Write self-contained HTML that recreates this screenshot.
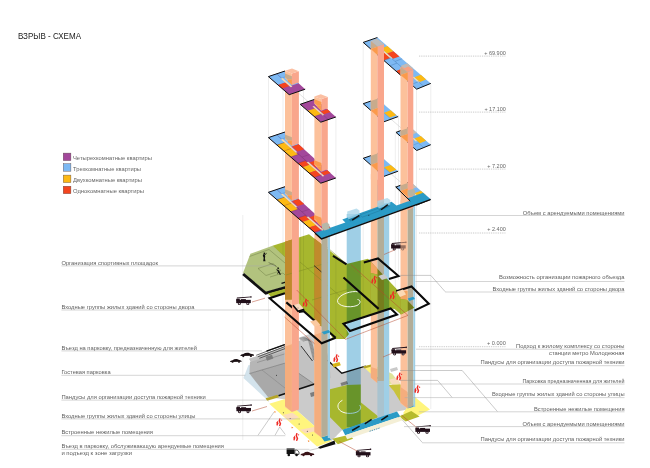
<!DOCTYPE html>
<html><head><meta charset="utf-8"><title>ВЗРЫВ - СХЕМА</title>
<style>
html,body{margin:0;padding:0;background:#fff;}
body{width:650px;height:468px;overflow:hidden;font-family:"Liberation Sans",sans-serif;}
svg{display:block;position:absolute;left:0;top:0;}
svg text{font-family:"Liberation Sans",sans-serif;}
</style></head><body>
<svg width="650" height="468" viewBox="0 0 650 468">
<rect width="650" height="468" fill="#fff"/>
<g style="isolation:isolate">
<polyline points="268.5,77.0 268.5,402.0" fill="none" stroke="#dcdcdc" stroke-width="0.5" />
<polyline points="242.8,215.0 242.8,440.0" fill="none" stroke="#dcdcdc" stroke-width="0.5" />
<polyline points="303.5,88.0 303.5,300.0" fill="none" stroke="#dcdcdc" stroke-width="0.5" />
<polyline points="335.9,117.0 335.9,445.0" fill="none" stroke="#dcdcdc" stroke-width="0.5" />
<polyline points="300.6,105.0 300.6,300.0" fill="none" stroke="#dcdcdc" stroke-width="0.5" />
<polyline points="363.2,43.0 363.2,368.0" fill="none" stroke="#dcdcdc" stroke-width="0.5" />
<polyline points="377.5,38.0 377.5,262.0" fill="none" stroke="#dcdcdc" stroke-width="0.5" />
<polyline points="430.8,84.0 430.8,409.0" fill="none" stroke="#dcdcdc" stroke-width="0.5" />
<polyline points="395.3,131.0 395.3,300.0" fill="none" stroke="#dcdcdc" stroke-width="0.5" />
<polyline points="416.5,89.0 416.5,312.0" fill="none" stroke="#dcdcdc" stroke-width="0.5" />
<polyline points="320.9,122.0 320.9,448.0" fill="none" stroke="#dcdcdc" stroke-width="0.5" />
<polyline points="283.0,72.0 283.0,398.0" fill="none" stroke="#dcdcdc" stroke-width="0.5" />
<polyline points="398.5,115.0 398.5,280.0" fill="none" stroke="#dcdcdc" stroke-width="0.5" />
<polyline points="419.0,56.1 505.8,56.1" fill="none" stroke="#9a9a9a" stroke-width="0.6" stroke-dasharray="0.9 0.9"/>
<polyline points="419.0,112.1 505.8,112.1" fill="none" stroke="#9a9a9a" stroke-width="0.6" stroke-dasharray="0.9 0.9"/>
<polyline points="419.0,169.1 505.8,169.1" fill="none" stroke="#9a9a9a" stroke-width="0.6" stroke-dasharray="0.9 0.9"/>
<polyline points="419.0,233.0 505.8,233.0" fill="none" stroke="#9a9a9a" stroke-width="0.6" stroke-dasharray="0.9 0.9"/>
<polyline points="419.0,346.7 505.8,346.7" fill="none" stroke="#9a9a9a" stroke-width="0.6" stroke-dasharray="0.9 0.9"/>
<polygon points="249.2,358.8 285.8,346.3 322.0,332.0 329.0,361.0 341.8,373.2 365.3,366.2 375.7,373.0 379.2,383.0 384.5,381.3 389.2,384.2 407.5,409.5 397.0,411.6 342.4,429.8 331.3,441.0 284.2,399.2 268.5,397.3" fill="#cbcbcb" />
<polygon points="248.5,365.0 243.4,377.9 265.6,398.4 278.0,395.4 256.0,366.0" fill="#d3e3ec" />
<polygon points="249.2,358.8 285.8,346.3 322.0,332.0 329.0,361.0 331.0,378.0 291.0,392.0 268.5,397.3" fill="#c2c2c2" />
<polygon points="249.4,373.6 284.4,363.3 315.2,384.7 278.5,395.8 268.0,397.0" fill="#a9a9a9" />
<polygon points="250.0,362.0 284.4,351.0 284.4,363.3 249.4,373.6" fill="#b6b6b6" />
<polyline points="256.2,355.3 285.3,344.3" fill="none" stroke="#2a2a2a" stroke-width="0.7" />
<polyline points="257.8,356.8 286.9,345.8" fill="none" stroke="#2a2a2a" stroke-width="0.7" />
<polyline points="259.4,358.3 288.5,347.3" fill="none" stroke="#2a2a2a" stroke-width="0.7" />
<polyline points="266.5,351.2 284.8,344.6" fill="none" stroke="#111" stroke-width="1.4" />
<polyline points="278.5,395.8 315.2,383.8" fill="none" stroke="#111" stroke-width="1.5" />
<polyline points="257.0,362.5 284.4,354.0" fill="none" stroke="#666" stroke-width="0.4" />
<polyline points="249.4,373.6 284.4,363.3 315.2,384.7" fill="none" stroke="#666" stroke-width="0.5" />
<polyline points="262.0,370.0 290.0,392.0" fill="none" stroke="#777" stroke-width="0.4" />
<circle cx="276.5" cy="375.3" r="0.5" fill="#222"/>
<polygon points="299.0,337.5 310.0,334.0 314.0,338.0 314.4,362.0 302.0,349.0" fill="#cdcdcd" />
<path d="M299.5,338.5 q7,-2.5 9,1.5 l5,20" fill="none" stroke="#555" stroke-width="0.45"/>
<path d="M300.6,339.4 q7,-2.5 9,1.5 l5,20" fill="none" stroke="#555" stroke-width="0.45"/>
<path d="M301.7,340.3 q7,-2.5 9,1.5 l5,20" fill="none" stroke="#555" stroke-width="0.45"/>
<path d="M302.8,341.2 q7,-2.5 9,1.5 l5,20" fill="none" stroke="#555" stroke-width="0.45"/>
<polyline points="301.0,346.0 312.5,361.0" fill="none" stroke="#222" stroke-width="0.9" />
<polygon points="265.6,356.8 272.0,354.8 273.3,358.6 267.0,360.8" fill="#7c7c7c" />
<polygon points="310.0,393.0 320.0,390.0 321.0,394.0 311.0,397.0" fill="#7d7d7d" />
<polygon points="340.5,383.0 347.0,381.0 348.0,384.0 341.5,386.0" fill="#7d7d7d" />
<polygon points="265.6,398.2 277.5,394.8 279.0,397.2 267.0,400.8" fill="#b5a528" />
<polygon points="269.2,403.7 284.2,399.2 331.7,441.3 317.0,446.5" fill="#fff57d" />
<polygon points="282.7,414.9 292.4,412.7 299.0,417.2 289.4,420.9" fill="#fbdcbc" />
<polygon points="299.8,429.8 314.0,426.9 317.8,430.6 305.8,433.6" fill="#fbdcbc" />
<circle cx="283.4" cy="412.7" r="0.5" fill="#333"/>
<circle cx="290.1" cy="418.6" r="0.5" fill="#333"/>
<circle cx="299.1" cy="423.9" r="0.5" fill="#333"/>
<circle cx="307.3" cy="431.3" r="0.5" fill="#333"/>
<circle cx="312.5" cy="435.1" r="0.5" fill="#333"/>
<polygon points="274.2,411.1 276.2,411.9 274.6,412.8" fill="#f58220" />
<polygon points="291.4,426.8 293.4,427.6 291.8,428.5" fill="#f58220" />
<polygon points="307.8,440.2 309.8,441.0 308.2,441.9" fill="#f58220" />
<polyline points="327.6,360.3 341.8,373.2 365.3,366.2 371.0,372.0" fill="none" stroke="#111" stroke-width="1.4" />
<polyline points="371.0,375.6 384.0,380.0" fill="none" stroke="#111" stroke-width="1.0" />
<polygon points="383.9,370.0 392.2,373.7 400.4,384.2 388.4,384.2 383.9,381.2" fill="#dfe398" />
<polygon points="389.2,379.7 397.4,377.4 400.4,383.4 392.2,384.9" fill="#f6dcc0" />
<polygon points="388.4,384.9 400.4,384.2 407.9,394.6 400.5,402.0 393.7,390.9" fill="#c9c23a" />
<polygon points="414.6,396.7 430.0,409.5 412.0,418.5 403.0,413.3" fill="#fff57d" />
<polygon points="363.3,366.5 375.0,363.5 378.0,367.5 381.0,374.0 376.5,378.5 369.0,372.0" fill="#fff57d" />
<polygon points="363.3,366.5 375.0,363.5 376.0,365.3 364.5,368.5" fill="#b5a528" />
<polygon points="332.4,364.0 339.5,362.0 340.8,365.3 333.6,367.5" fill="#d6b416" />
<polygon points="390.0,369.0 397.0,367.0 398.0,370.0 391.0,372.0" fill="#c9c9c9" />
<polygon points="329.0,389.4 346.9,385.0 346.9,428.6 342.4,429.8 329.0,416.3" fill="#a7b72e" />
<polygon points="346.7,385.0 360.8,384.6 360.8,424.0 346.7,428.6" fill="#a7b72e" />
<polygon points="360.4,402.1 379.0,417.0 360.4,424.0" fill="#a7b72e" />
<path d="M342.4,400.3 C338,402.5 336.5,406.5 339.5,410 C343,413.8 352,414.3 357,412 C361,410 361.3,407 359.6,405.1" fill="none" stroke="#fff" stroke-width="0.9"/>
<polygon points="332.3,438.8 350.3,434.6 353.0,438.8 337.9,444.3" fill="#b6bb2e" />
<polygon points="321.4,437.3 328.0,435.6 331.0,440.0 324.5,441.5" fill="#2b9bc6" />
<polygon points="407.0,405.6 413.0,404.0 414.5,406.5 408.5,408.2" fill="#2b9bc6" />
<polygon points="398.8,416.6 411.3,411.0 419.6,416.6 405.7,421.6" fill="#b6bb2e" />
<polyline points="396.0,414.0 399.0,417.5" fill="none" stroke="#111" stroke-width="1.5" />
<polygon points="318.0,447.3 334.5,440.5 335.4,444.2 320.0,448.8" fill="#111" />
<polygon points="285.0,194.0 291.9,200.0 291.9,412.0 285.0,407.0" fill="#fcc19b" />
<polygon points="314.4,220.0 321.4,226.0 321.4,437.5 314.4,432.5" fill="#fcc19b" />
<polygon points="370.8,174.0 377.4,180.0 377.4,383.0 370.8,378.0" fill="#fcc19b" />
<polygon points="400.5,200.0 407.6,206.0 407.6,408.5 400.5,403.5" fill="#fcc19b" />
<polygon points="285.0,346.6 291.9,344.2 291.9,412.0 285.0,406.0" fill="#f5ad7d" />
<polygon points="314.4,335.0 321.4,332.5 321.4,437.5 314.4,431.5" fill="#f5ad7d" />
<polygon points="370.8,367.0 377.4,369.0 377.4,383.0 370.8,377.5" fill="#f5ad7d" />
<polygon points="400.5,387.0 407.6,392.0 407.6,408.5 400.5,402.5" fill="#f5ad7d" />
<polygon points="377.4,180.0 384.0,177.5 384.0,380.5 377.4,383.0" fill="#b3ad98" />
<polygon points="407.6,206.0 413.3,203.5 413.3,406.0 407.6,408.5" fill="#b3ad98" />
<polygon points="377.4,180.0 384.0,177.5 384.0,201.0 377.4,203.5" fill="#f9a68c" />
<polygon points="407.6,206.0 413.3,203.5 413.3,190.0 407.6,192.5" fill="#f9a68c" />
<rect x="384.0" y="203.0" width="5.2" height="217.5" fill="#9fcfe6" />
<rect x="413.3" y="192.0" width="1.9" height="215.0" fill="#9fcfe6" />
<rect x="377.4" y="381.0" width="6.6" height="39.5" fill="#a9c3cf" />
<rect x="346.7" y="214.0" width="14.1" height="213.0" fill="#9fcfe6" style="mix-blend-mode:multiply"/>
<polygon points="250.4,253.8 272.5,245.8 286.0,257.5 286.0,286.2 265.8,291.9 243.1,272.7" fill="#b2c37e" />
<polyline points="249.5,256.5 269.0,249.5 285.0,263.0" fill="none" stroke="#5f6e3a" stroke-width="0.4" />
<polyline points="258.0,268.5 273.0,263.5 281.0,270.5 266.0,275.5 258.0,268.5" fill="none" stroke="#5f6e3a" stroke-width="0.4" />
<polyline points="270.0,277.0 283.0,273.0 285.0,275.0" fill="none" stroke="#5f6e3a" stroke-width="0.4" />
<polyline points="281.5,283.3 286.5,281.8" fill="none" stroke="#111" stroke-width="1.3" />
<polyline points="243.1,274.0 265.8,293.2 286.0,287.4" fill="none" stroke="#111" stroke-width="2.8" />
<polygon points="272.5,245.8 309.0,234.2 346.5,264.0 368.0,258.8 414.4,307.7 401.0,314.4 394.5,309.0 390.6,308.4 343.5,323.7 349.0,334.0 345.0,339.0 333.0,339.0 330.0,333.0 316.2,322.2 303.7,311.1 298.7,306.7 298.7,299.5 285.0,299.5 285.0,257.0" fill="#a7b72e" style="mix-blend-mode:multiply"/>
<polygon points="268.0,293.5 286.0,288.5 286.0,293.0 271.0,297.0" fill="#a7b72e" />
<polygon points="285.0,241.8 291.9,239.6 291.9,299.5 285.0,299.5" fill="#c08a2c" />
<polygon points="314.4,238.5 321.4,244.0 321.4,326.5 314.4,320.7" fill="#c08a2c" />
<polygon points="370.8,261.7 377.4,268.7 377.4,274.5 370.8,273.0" fill="#f3a562" />
<polygon points="370.8,273.0 377.4,274.5 377.4,312.8 370.8,315.0" fill="#a9b836" />
<polygon points="400.5,291.0 407.6,291.0 407.6,300.0 400.5,299.0" fill="#f3a562" />
<polygon points="400.5,299.0 407.6,300.0 407.6,311.0 400.5,314.5" fill="#a9b836" />
<polyline points="300.0,262.0 340.0,296.0" fill="none" stroke="#7f8c22" stroke-width="0.5" />
<polyline points="322.0,243.0 362.0,277.0" fill="none" stroke="#7f8c22" stroke-width="0.5" />
<polyline points="286.0,275.0 330.0,262.0" fill="none" stroke="#7f8c22" stroke-width="0.5" />
<polyline points="312.0,300.0 356.0,287.0" fill="none" stroke="#7f8c22" stroke-width="0.5" />
<polyline points="314.0,265.5 325.0,275.0" fill="none" stroke="#222" stroke-width="0.8" />
<path d="M358,291.8 C352,290.5 339,294 337.5,300.5 C337,306 349,308.5 357,305.5 C361,303.5 361,300 357.5,299.5" fill="none" stroke="#fff" stroke-width="0.9"/>
<polyline points="335.6,337.8 329.0,332.0" fill="none" stroke="#0a0a0a" stroke-width="2.1" stroke-linejoin="miter"/>
<polyline points="286.3,302.4 297.8,312.1 303.7,311.1 316.2,322.2" fill="none" stroke="#0a0a0a" stroke-width="2.1" stroke-linejoin="miter"/>
<polygon points="291.9,200.0 298.9,197.5 298.9,409.5 291.9,412.0" fill="#f9a68c" />
<polygon points="321.4,226.0 327.8,223.5 327.8,435.0 321.4,437.5" fill="#b3ad98" />
<rect x="327.8" y="226.0" width="2.2" height="212.0" fill="#9fcfe6" />
<polygon points="293.0,305.3 299.0,303.6 304.2,309.2 298.0,311.2" fill="#fbdcc0" />
<polyline points="293.0,305.3 298.0,311.2 304.2,309.2" fill="none" stroke="#0a0a0a" stroke-width="1.6" />
<polygon points="310.0,321.5 316.0,319.8 320.3,324.8 314.5,326.6" fill="#fbc9a0" />
<circle cx="298" cy="308" r="0.45" fill="#222"/>
<polyline points="284.9,293.3 269.6,298.2 321.7,343.3 335.6,337.8" fill="none" stroke="#0a0a0a" stroke-width="2.1" stroke-linejoin="miter"/>
<polygon points="321.8,332.0 328.5,330.0 330.5,332.3 324.0,334.5" fill="#2b9bc6" />
<polygon points="343.5,323.7 390.6,308.4 397.0,314.5 350.0,331.0" fill="none" stroke="#0a0a0a" stroke-width="2.1"/>
<polyline points="343.5,277.5 378.6,308.9" fill="none" stroke="#0a0a0a" stroke-width="2.1" stroke-linejoin="miter"/>
<polyline points="333.0,255.8 346.5,264.4" fill="none" stroke="#0a0a0a" stroke-width="2.1" stroke-linejoin="miter"/>
<polyline points="363.8,262.5 378.0,258.5 398.5,276.0 389.0,279.0" fill="none" stroke="#0a0a0a" stroke-width="2.1" stroke-linejoin="miter"/>
<polyline points="396.2,291.3 411.5,286.5 428.8,303.8 414.4,310.6" fill="none" stroke="#0a0a0a" stroke-width="2.1" stroke-linejoin="miter"/>
<polygon points="378.3,276.0 384.0,274.0 388.0,278.0 382.0,280.0" fill="#c9c9c9" />
<polygon points="396.5,291.5 403.0,289.5 406.0,294.5 400.0,297.0" fill="#fbd9b5" />
<polygon points="407.7,298.5 413.3,296.8 415.0,299.0 409.3,301.0" fill="#2b9bc6" />
<polyline points="297.2,91.9 308.1,101.6" fill="none" stroke="#cfcfcf" stroke-width="0.6" />
<polyline points="391.0,119.2 403.0,129.6" fill="none" stroke="#cfcfcf" stroke-width="0.6" />
<polyline points="391.0,173.8 403.0,184.2" fill="none" stroke="#cfcfcf" stroke-width="0.6" />
<polygon points="363.2,158.3 377.4,153.4 398.1,171.2 383.9,176.4" fill="#7db9f3" />
<polygon points="371.0,156.4 378.1,154.0 384.7,159.7 377.6,162.2" fill="#c9bfb2" />
<polygon points="370.9,165.0 378.0,162.5 384.7,168.3 377.6,170.9" fill="#f7941d" />
<polygon points="384.0,167.3 390.7,164.9 396.4,169.8 389.7,172.2" fill="#fdb913" />
<polyline points="384.7,168.3 391.0,173.8" fill="none" stroke="#3f74ad" stroke-width="0.3" />
<polyline points="377.4,153.4 363.2,158.3 383.9,176.4 398.1,171.2" fill="none" stroke="#111" stroke-width="1.0" stroke-linejoin="miter"/>
<polygon points="396.0,187.0 410.1,181.5 430.8,199.3 416.7,205.1" fill="#7db9f3" />
<polygon points="403.0,184.2 410.1,181.5 416.8,187.3 409.7,190.0" fill="#c9bfb2" />
<polygon points="400.5,190.9 407.6,188.2 414.3,194.0 407.2,196.8" fill="#f7941d" />
<polygon points="414.4,193.2 420.8,190.7 426.1,195.3 419.8,197.9" fill="#fdb913" />
<polygon points="412.4,193.2 413.8,192.6 417.1,195.5 415.7,196.1" fill="#f3dcb8" />
<polyline points="411.3,200.4 418.4,197.6 423.8,202.2" fill="none" stroke="#3f74ad" stroke-width="0.3" />
<polyline points="410.1,181.5 396.0,187.0 416.7,205.1 430.8,199.3" fill="none" stroke="#111" stroke-width="1.0" stroke-linejoin="miter"/>
<polygon points="363.2,103.7 377.4,98.8 398.1,116.6 383.9,121.8" fill="#7db9f3" />
<polygon points="371.0,101.8 378.1,99.4 384.7,105.1 377.6,107.6" fill="#c9bfb2" />
<polygon points="370.9,110.4 378.0,107.9 384.7,113.7 377.6,116.3" fill="#f7941d" />
<polygon points="384.0,112.7 390.7,110.3 396.4,115.2 389.7,117.6" fill="#fdb913" />
<polyline points="384.7,113.7 391.0,119.2" fill="none" stroke="#3f74ad" stroke-width="0.3" />
<polyline points="377.4,98.8 363.2,103.7 383.9,121.8 398.1,116.6" fill="none" stroke="#111" stroke-width="1.0" stroke-linejoin="miter"/>
<polygon points="396.0,132.4 410.1,126.9 430.8,144.7 416.7,150.5" fill="#7db9f3" />
<polygon points="403.0,129.6 410.1,126.9 416.8,132.7 409.7,135.4" fill="#c9bfb2" />
<polygon points="400.5,136.3 407.6,133.6 414.3,139.4 407.2,142.2" fill="#f7941d" />
<polygon points="414.4,138.6 420.8,136.1 426.1,140.7 419.8,143.3" fill="#fdb913" />
<polygon points="412.4,138.6 413.8,138.0 417.1,140.9 415.7,141.5" fill="#f3dcb8" />
<polyline points="411.3,145.8 418.4,143.0 423.8,147.6" fill="none" stroke="#3f74ad" stroke-width="0.3" />
<polyline points="410.1,126.9 396.0,132.4 416.7,150.5 430.8,144.7" fill="none" stroke="#111" stroke-width="1.0" stroke-linejoin="miter"/>
<polygon points="363.2,42.4 377.4,37.5 430.8,83.4 416.7,89.2" fill="#7db9f3" />
<polygon points="370.9,49.1 378.0,46.6 384.7,52.4 377.6,55.0" fill="#f7941d" />
<polygon points="377.6,55.0 384.1,52.6 390.4,58.1 383.9,60.5" fill="#f4451e" />
<polygon points="381.0,48.4 387.4,46.1 393.4,51.3 387.0,53.6" fill="#fdb913" />
<polygon points="387.0,53.6 393.4,51.3 399.4,56.4 393.1,58.8" fill="#f4451e" />
<polygon points="383.0,51.8 384.4,51.3 392.4,58.2 391.0,58.8" fill="#f3dcb8" />
<polygon points="396.0,71.1 402.5,68.6 407.0,72.5 400.5,75.0" fill="#f4451e" />
<polygon points="400.5,75.0 407.6,72.3 414.3,78.1 407.2,80.9" fill="#f7941d" />
<polygon points="401.1,65.8 407.4,63.3 413.4,68.5 407.1,71.0" fill="#bcbcbc" />
<polygon points="414.4,77.3 420.8,74.8 426.1,79.4 419.8,82.0" fill="#fdb913" />
<polygon points="412.4,77.3 413.8,76.7 419.8,82.0 418.4,82.5" fill="#f3dcb8" />
<polyline points="383.9,60.5 391.0,57.9" fill="none" stroke="#3f74ad" stroke-width="0.4" />
<polyline points="389.9,65.8 397.0,63.1" fill="none" stroke="#3f74ad" stroke-width="0.4" />
<polyline points="395.0,61.4 402.1,58.7" fill="none" stroke="#3f74ad" stroke-width="0.4" />
<polyline points="391.7,58.5 403.7,68.9" fill="none" stroke="#3f74ad" stroke-width="0.4" />
<polyline points="411.3,84.5 418.4,81.7 423.8,86.3" fill="none" stroke="#3f74ad" stroke-width="0.4" />
<polyline points="377.4,37.5 363.2,42.4 416.7,89.2 430.8,83.4" fill="none" stroke="#111" stroke-width="1.0" stroke-linejoin="miter"/>
<polygon points="370.8,41.0 377.4,46.2 377.4,185.3 370.8,179.4" fill="#fcc19b" />
<polygon points="377.4,46.2 384.0,43.9 384.0,182.8 377.4,185.3" fill="#f9a68c" />
<polygon points="370.8,41.0 376.8,38.5 384.0,43.9 377.4,46.2" fill="#bcbcbc" />
<polygon points="400.5,66.9 407.6,72.1 407.6,210.3 400.5,204.4" fill="#fcc19b" />
<polygon points="407.6,72.1 413.3,69.8 413.3,207.8 407.6,210.3" fill="#f9a68c" />
<polygon points="400.5,66.9 405.6,64.4 413.3,69.8 407.6,72.1" fill="#f9a182" />
<polygon points="401.0,66.3 405.5,64.6 408.5,66.3 404.5,68.2" fill="#bcbcbc" />
<polygon points="370.8,101.1 377.4,98.8 377.4,108.0 370.8,110.4" fill="#c8ab8c" />
<polygon points="370.8,110.4 377.4,108.0 377.4,116.3" fill="#fb9a4b" />
<polygon points="400.5,130.8 407.6,128.3 407.6,133.9 400.5,136.3" fill="#c8ab8c" />
<polygon points="400.5,136.3 407.6,133.9 407.6,142.2" fill="#fb9a4b" />
<polygon points="370.8,155.7 377.4,153.4 377.4,162.6 370.8,165.0" fill="#c8ab8c" />
<polygon points="370.8,165.0 377.4,162.6 377.4,170.9" fill="#fb9a4b" />
<polygon points="400.5,185.4 407.6,182.9 407.6,188.5 400.5,190.9" fill="#c8ab8c" />
<polygon points="400.5,190.9 407.6,188.5 407.6,196.8" fill="#fb9a4b" />
<polygon points="370.8,41.0 377.4,46.2 377.4,46.7 370.8,49.1" fill="#c8ab8c" />
<polygon points="370.8,49.1 377.4,46.7 377.4,55.0" fill="#fb9a4b" />
<polygon points="400.5,66.9 407.6,72.1 407.6,72.6 400.5,75.0" fill="#c8ab8c" />
<polygon points="400.5,75.0 407.6,72.6 407.6,80.9" fill="#fb9a4b" />
<polygon points="268.4,192.3 285.0,186.7 335.9,232.7 320.8,237.9" fill="#a3489b" />
<polygon points="268.4,192.3 276.7,189.5 285.1,196.9 276.9,199.7" fill="#7db9f3" />
<polygon points="276.7,189.5 285.0,186.7 298.6,198.9 290.5,201.7" fill="#7db9f3" />
<polygon points="276.9,199.7 284.4,197.2 291.2,203.2 283.8,205.7" fill="#fdb913" />
<polygon points="283.8,205.7 291.2,203.2 298.0,209.2 290.7,211.7" fill="#fdb913" />
<polygon points="292.1,201.1 298.6,198.9 304.1,204.0 297.7,206.1" fill="#f4451e" />
<polygon points="297.9,218.0 305.1,215.5 309.6,219.5 302.5,221.9" fill="#f4451e" />
<polygon points="302.5,221.9 309.6,219.5 316.1,225.2 309.0,227.6" fill="#fdb913" />
<polygon points="309.0,227.6 316.1,225.2 321.3,229.8 314.2,232.2" fill="#f4451e" />
<polygon points="309.5,217.2 316.2,214.9 321.9,220.1 315.3,222.3" fill="#f4451e" />
<polygon points="320.8,227.2 327.4,225.0 330.5,227.8 324.0,230.0" fill="#f4451e" />
<polygon points="280.7,194.1 282.4,193.5 297.5,207.0 295.9,207.5" fill="#f3dcb8" />
<polygon points="306.6,217.0 308.2,216.4 324.3,230.7 322.7,231.3" fill="#f3dcb8" />
<polyline points="276.7,189.5 281.5,193.8" fill="none" stroke="#3f74ad" stroke-width="0.4" />
<polyline points="281.5,193.8 289.8,191.0" fill="none" stroke="#3f74ad" stroke-width="0.3" />
<polyline points="276.9,199.7 284.4,197.2" fill="none" stroke="#333" stroke-width="0.3" />
<polyline points="283.8,205.7 291.2,203.2" fill="none" stroke="#b9820a" stroke-width="0.4" />
<polyline points="290.7,211.7 298.7,209.0" fill="none" stroke="#6e2c69" stroke-width="0.4" />
<polyline points="296.7,207.2 307.4,216.7" fill="none" stroke="#6e2c69" stroke-width="0.4" />
<polyline points="301.9,211.8 309.8,209.1" fill="none" stroke="#6e2c69" stroke-width="0.3" />
<polyline points="297.9,218.0 305.8,215.3" fill="none" stroke="#6e2c69" stroke-width="0.4" />
<polyline points="314.2,232.2 321.9,229.6" fill="none" stroke="#6e2c69" stroke-width="0.3" />
<polyline points="285.0,186.7 268.4,192.3 320.8,237.9 335.9,232.7" fill="none" stroke="#111" stroke-width="1.0" stroke-linejoin="miter"/>
<polygon points="285.0,139.1 291.9,146.0 291.9,200.7 285.0,193.8" fill="#fcc19b" />
<polygon points="291.9,146.0 298.9,143.3 298.9,198.0 291.9,200.7" fill="#f9a68c" />
<polygon points="314.4,164.8 321.4,171.7 321.4,226.4 314.4,219.5" fill="#fcc19b" />
<polygon points="321.4,171.7 327.8,169.0 327.8,223.7 321.4,226.4" fill="#f9a68c" />
<polygon points="285.0,189.3 291.9,192.0 291.9,195.2 287.5,195.2 285.0,192.9" fill="#c8ab8c" />
<polygon points="287.5,195.2 291.9,195.2 291.9,200.7 288.0,197.0" fill="#fb9a4b" />
<polygon points="314.4,215.0 321.4,217.7 321.4,220.9 316.9,220.9 314.4,218.6" fill="#fb9a4b" />
<polygon points="316.9,220.9 321.4,220.9 321.4,226.4 317.4,222.7" fill="#fb9a4b" />
<polygon points="268.4,137.6 285.0,132.0 335.9,178.0 320.8,183.2" fill="#a3489b" />
<polygon points="268.4,137.6 276.7,134.8 285.1,142.2 276.9,145.0" fill="#7db9f3" />
<polygon points="276.7,134.8 285.0,132.0 298.6,144.2 290.5,147.0" fill="#7db9f3" />
<polygon points="276.9,145.0 284.4,142.5 291.2,148.5 283.8,151.0" fill="#fdb913" />
<polygon points="283.8,151.0 291.2,148.5 298.0,154.5 290.7,157.0" fill="#fdb913" />
<polygon points="292.1,146.4 298.6,144.2 304.1,149.2 297.7,151.4" fill="#f4451e" />
<polygon points="297.9,163.2 305.1,160.8 309.6,164.8 302.5,167.2" fill="#f4451e" />
<polygon points="302.5,167.2 309.6,164.8 316.1,170.5 309.0,172.9" fill="#fdb913" />
<polygon points="309.0,172.9 316.1,170.5 321.3,175.1 314.2,177.5" fill="#f4451e" />
<polygon points="309.5,162.5 316.2,160.2 321.9,165.3 315.3,167.6" fill="#f4451e" />
<polygon points="320.8,172.5 327.4,170.3 330.5,173.1 324.0,175.3" fill="#f4451e" />
<polygon points="280.7,139.4 282.4,138.8 297.5,152.3 295.9,152.8" fill="#f3dcb8" />
<polygon points="306.6,162.3 308.2,161.7 324.3,176.0 322.7,176.6" fill="#f3dcb8" />
<polyline points="276.7,134.8 281.5,139.1" fill="none" stroke="#3f74ad" stroke-width="0.4" />
<polyline points="281.5,139.1 289.8,136.3" fill="none" stroke="#3f74ad" stroke-width="0.3" />
<polyline points="276.9,145.0 284.4,142.5" fill="none" stroke="#333" stroke-width="0.3" />
<polyline points="283.8,151.0 291.2,148.5" fill="none" stroke="#b9820a" stroke-width="0.4" />
<polyline points="290.7,157.0 298.7,154.3" fill="none" stroke="#6e2c69" stroke-width="0.4" />
<polyline points="296.7,152.5 307.4,162.0" fill="none" stroke="#6e2c69" stroke-width="0.4" />
<polyline points="301.9,157.1 309.8,154.4" fill="none" stroke="#6e2c69" stroke-width="0.3" />
<polyline points="297.9,163.2 305.8,160.6" fill="none" stroke="#6e2c69" stroke-width="0.4" />
<polyline points="314.2,177.5 321.9,174.9" fill="none" stroke="#6e2c69" stroke-width="0.3" />
<polyline points="285.0,132.0 268.4,137.6 320.8,183.2 335.9,178.0" fill="none" stroke="#111" stroke-width="1.0" stroke-linejoin="miter"/>
<polygon points="285.0,78.1 291.9,85.0 291.9,146.0 285.0,139.1" fill="#fcc19b" />
<polygon points="291.9,85.0 298.9,82.3 298.9,143.3 291.9,146.0" fill="#f9a68c" />
<polygon points="314.4,103.8 321.4,110.7 321.4,171.7 314.4,164.8" fill="#fcc19b" />
<polygon points="321.4,110.7 327.8,108.0 327.8,169.0 321.4,171.7" fill="#f9a68c" />
<polygon points="285.0,134.6 291.9,137.3 291.9,140.5 287.5,140.5 285.0,138.2" fill="#c8ab8c" />
<polygon points="287.5,140.5 291.9,140.5 291.9,146.0 288.0,142.3" fill="#fb9a4b" />
<polygon points="314.4,160.3 321.4,163.0 321.4,166.2 316.9,166.2 314.4,163.9" fill="#fb9a4b" />
<polygon points="316.9,166.2 321.4,166.2 321.4,171.7 317.4,168.0" fill="#fb9a4b" />
<polygon points="268.4,76.6 285.0,71.0 305.2,89.2 289.2,94.7" fill="#a3489b" />
<polygon points="268.4,76.6 276.7,73.8 286.1,82.2 278.0,84.9" fill="#7db9f3" />
<polygon points="276.7,73.8 285.0,71.0 298.6,83.2 290.5,86.0" fill="#7db9f3" />
<polygon points="278.0,84.9 285.5,82.4 289.6,86.0 282.2,88.6" fill="#f4451e" />
<polygon points="280.7,78.4 282.4,77.8 292.4,86.7 290.7,87.2" fill="#f3dcb8" />
<polyline points="276.7,73.8 281.5,78.1" fill="none" stroke="#3f74ad" stroke-width="0.4" />
<polyline points="281.5,78.1 289.8,75.3" fill="none" stroke="#3f74ad" stroke-width="0.3" />
<polyline points="285.0,71.0 268.4,76.6 289.2,94.7 305.2,89.2" fill="none" stroke="#111" stroke-width="1.0" stroke-linejoin="miter"/>
<polygon points="300.2,104.3 315.9,98.9 335.9,117.0 320.8,122.2" fill="#a3489b" />
<polygon points="307.7,110.8 314.8,108.4 321.3,114.1 314.2,116.5" fill="#fdb913" />
<polygon points="320.8,111.5 327.4,109.3 330.5,112.1 324.0,114.3" fill="#f4451e" />
<polygon points="312.5,106.5 314.0,105.9 324.3,115.0 322.7,115.6" fill="#f3dcb8" />
<polyline points="314.2,116.5 321.9,113.9" fill="none" stroke="#6e2c69" stroke-width="0.3" />
<polyline points="322.5,114.4 328.4,119.6" fill="none" stroke="#6e2c69" stroke-width="0.3" />
<polyline points="315.9,98.9 300.2,104.3 320.8,122.2 335.9,117.0" fill="none" stroke="#111" stroke-width="1.0" stroke-linejoin="miter"/>
<polygon points="285.0,70.7 291.9,73.4 291.9,85.0 285.0,78.1" fill="#fcc19b" />
<polygon points="291.9,73.4 298.9,71.2 298.9,82.3 291.9,85.0" fill="#f9a68c" />
<polygon points="285.0,70.7 292.0,68.5 298.9,71.2 291.9,73.4" fill="#fbbfa2" />
<polygon points="314.4,96.4 321.4,99.1 321.4,110.7 314.4,103.8" fill="#fcc19b" />
<polygon points="321.4,99.1 327.8,96.9 327.8,108.0 321.4,110.7" fill="#f9a68c" />
<polygon points="314.4,96.4 320.8,94.2 327.8,96.9 321.4,99.1" fill="#fbbfa2" />
<polygon points="285.0,73.6 291.9,76.3 291.9,79.5 287.5,79.5 285.0,77.2" fill="#c8ab8c" />
<polygon points="287.5,79.5 291.9,79.5 291.9,85.0 288.0,81.3" fill="#fb9a4b" />
<polygon points="314.4,99.3 321.4,102.0 321.4,105.2 316.9,105.2 314.4,102.9" fill="#fb9a4b" />
<polygon points="316.9,105.2 321.4,105.2 321.4,110.7 317.4,107.0" fill="#fb9a4b" />
<polygon points="315.1,232.9 321.5,238.5 430.4,199.3 423.0,192.8 407.6,198.2 410.2,201.0 407.6,201.6 396.5,205.4 391.5,201.7 342.3,219.5 345.4,222.6" fill="#2b9bc6" />
<polygon points="348.5,219.3 359.5,215.3 360.5,217.2 350.5,221.6" fill="#1f7fa6" />
<polygon points="378.5,208.5 388.5,204.8 390.0,206.6 380.5,210.6" fill="#1f7fa6" />
<polyline points="360.2,214.8 378.0,208.4 380.0,210.6 362.3,217.2 360.2,214.8" fill="none" stroke="#1d6f92" stroke-width="0.4" />
<polyline points="315.1,233.2 321.5,238.9 430.4,199.7" fill="none" stroke="#0d0d0d" stroke-width="1.3" />
<polyline points="395.4,186.7 410.2,201.0" fill="none" stroke="#0d0d0d" stroke-width="1.0" />
<polygon points="347.2,211.5 356.5,208.5 359.5,210.5 359.5,215.3 348.6,219.3 347.2,216.5" fill="#a6d4e8" opacity="0.75"/>
<polygon points="377.4,201.0 387.3,198.0 390.3,200.0 390.3,204.6 379.0,208.6 377.4,206.0" fill="#a6d4e8" opacity="0.75"/>
<polyline points="352.2,220.2 359.3,215.3" fill="none" stroke="#111" stroke-width="1.4" />
<polyline points="381.1,209.7 387.8,204.6" fill="none" stroke="#111" stroke-width="1.4" />
<circle cx="368.8" cy="215.2" r="0.5" fill="#123"/>
<polygon points="322.0,224.0 327.0,222.3 329.4,224.5 329.4,229.0 324.5,230.5 322.0,228.5" fill="#b7b7a8" />
<polygon points="407.6,190.5 413.3,188.8 415.0,190.5 415.0,195.0 409.5,196.8 407.6,195.0" fill="#b9b3a0" />
<polygon points="342.4,429.8 397.0,411.6 400.3,416.6 345.2,435.2" fill="#2b9bc6" />
<polygon points="345.2,435.2 400.3,416.6 402.8,420.2 347.2,439.2" fill="#f4efd6" />
<polyline points="352.1,430.5 359.6,426.1" fill="none" stroke="#111" stroke-width="1.5" />
<polyline points="364.8,423.8 371.6,419.3" fill="none" stroke="#111" stroke-width="1.5" />
<polyline points="381.3,420.1 388.0,415.6" fill="none" stroke="#111" stroke-width="1.5" />
<polyline points="369.5,431.3 380.0,427.9" fill="none" stroke="#2b7fae" stroke-width="0.8" stroke-dasharray="1.4 0.9"/>
<g transform="translate(235.9,296.8) scale(1.00,0.90)" fill="#22101a" stroke="none" opacity="1.00"><rect x="0.3" y="3.4" width="14.6" height="3.6"/><rect x="0.3" y="2.2" width="3.6" height="2"/><rect x="5" y="2.6" width="5" height="1.2"/><rect x="1.0" y="0.9" width="14.6" height="1.0" transform="rotate(-5 1 1.4)"/><rect x="14.6" y="-0.6" width="0.9" height="1.6"/><circle cx="3.4" cy="7.6" r="1.55"/><circle cx="11.9" cy="7.6" r="1.55"/><circle cx="3.4" cy="7.6" r="0.6" fill="#fff"/><circle cx="11.9" cy="7.6" r="0.6" fill="#fff"/></g>
<g transform="translate(236.1,404.9) scale(1.00,0.90)" fill="#22101a" stroke="none" opacity="1.00"><rect x="0.3" y="3.4" width="14.6" height="3.6"/><rect x="0.3" y="2.2" width="3.6" height="2"/><rect x="5" y="2.6" width="5" height="1.2"/><rect x="1.0" y="0.9" width="14.6" height="1.0" transform="rotate(-5 1 1.4)"/><rect x="14.6" y="-0.6" width="0.9" height="1.6"/><circle cx="3.4" cy="7.6" r="1.55"/><circle cx="11.9" cy="7.6" r="1.55"/><circle cx="3.4" cy="7.6" r="0.6" fill="#fff"/><circle cx="11.9" cy="7.6" r="0.6" fill="#fff"/></g>
<g transform="translate(391.2,347.2) scale(1.00,0.90)" fill="#22101a" stroke="none" opacity="1.00"><rect x="0.3" y="3.4" width="14.6" height="3.6"/><rect x="0.3" y="2.2" width="3.6" height="2"/><rect x="5" y="2.6" width="5" height="1.2"/><rect x="1.0" y="0.9" width="14.6" height="1.0" transform="rotate(-5 1 1.4)"/><rect x="14.6" y="-0.6" width="0.9" height="1.6"/><circle cx="3.4" cy="7.6" r="1.55"/><circle cx="11.9" cy="7.6" r="1.55"/><circle cx="3.4" cy="7.6" r="0.6" fill="#fff"/><circle cx="11.9" cy="7.6" r="0.6" fill="#fff"/></g>
<g transform="translate(415.1,425.6) scale(1.00,0.90)" fill="#22101a" stroke="none" opacity="1.00"><rect x="0.3" y="3.4" width="14.6" height="3.6"/><rect x="0.3" y="2.2" width="3.6" height="2"/><rect x="5" y="2.6" width="5" height="1.2"/><rect x="1.0" y="0.9" width="14.6" height="1.0" transform="rotate(-5 1 1.4)"/><rect x="14.6" y="-0.6" width="0.9" height="1.6"/><circle cx="3.4" cy="7.6" r="1.55"/><circle cx="11.9" cy="7.6" r="1.55"/><circle cx="3.4" cy="7.6" r="0.6" fill="#fff"/><circle cx="11.9" cy="7.6" r="0.6" fill="#fff"/></g>
<g transform="translate(355.6,449.1) scale(1.00,0.90)" fill="#22101a" stroke="none" opacity="1.00"><rect x="0.3" y="3.4" width="14.6" height="3.6"/><rect x="0.3" y="2.2" width="3.6" height="2"/><rect x="5" y="2.6" width="5" height="1.2"/><rect x="1.0" y="0.9" width="14.6" height="1.0" transform="rotate(-5 1 1.4)"/><rect x="14.6" y="-0.6" width="0.9" height="1.6"/><circle cx="3.4" cy="7.6" r="1.55"/><circle cx="11.9" cy="7.6" r="1.55"/><circle cx="3.4" cy="7.6" r="0.6" fill="#fff"/><circle cx="11.9" cy="7.6" r="0.6" fill="#fff"/></g>
<g transform="translate(390.8,242.2) scale(1.00,0.90)" fill="#22101a" stroke="none" opacity="1.00"><rect x="0.3" y="3.4" width="14.6" height="3.6"/><rect x="0.3" y="2.2" width="3.6" height="2"/><rect x="5" y="2.6" width="5" height="1.2"/><rect x="1.0" y="0.9" width="14.6" height="1.0" transform="rotate(-5 1 1.4)"/><rect x="14.6" y="-0.6" width="0.9" height="1.6"/><circle cx="3.4" cy="7.6" r="1.55"/><circle cx="11.9" cy="7.6" r="1.55"/><circle cx="3.4" cy="7.6" r="0.6" fill="#fff"/><circle cx="11.9" cy="7.6" r="0.6" fill="#fff"/></g>
<rect x="400.5" y="240" width="7.1" height="11" fill="#fcc19b" opacity="0.55"/>
<g transform="translate(240.3,352.2) scale(1.00)" fill="#1a1013"><path d="M0,3.4 Q0.5,2.2 3,1.9 Q5,0.2 8.2,0.6 Q10.2,1.6 12.8,2.1 Q14,2.5 13.7,3.6 L0.3,3.9 Z"/><circle cx="3" cy="3.9" r="1.1"/><circle cx="10.6" cy="3.9" r="1.1"/></g>
<g transform="translate(230.0,358.6) scale(0.85)" fill="#1a1013"><path d="M0,3.4 Q0.5,2.2 3,1.9 Q5,0.2 8.2,0.6 Q10.2,1.6 12.8,2.1 Q14,2.5 13.7,3.6 L0.3,3.9 Z"/><circle cx="3" cy="3.9" r="1.1"/><circle cx="10.6" cy="3.9" r="1.1"/></g>
<g transform="translate(286.6,448.4)" fill="#111"><rect x="0" y="0" width="8" height="5.6"/><path d="M8.3,1.6 h2.3 l1.8,2 v2.4 h-4.1z" fill="#fff" stroke="#111" stroke-width="0.7"/><circle cx="2.2" cy="6.5" r="1.3"/><circle cx="10" cy="6.5" r="1.3"/></g>
<g transform="translate(300.5,451.3) scale(1.00)" fill="#3a1418"><path d="M0,3.4 Q0.5,2.2 3,1.9 Q5,0.2 8.2,0.6 Q10.2,1.6 12.8,2.1 Q14,2.5 13.7,3.6 L0.3,3.9 Z"/><circle cx="3" cy="3.9" r="1.1"/><circle cx="10.6" cy="3.9" r="1.1"/></g>
<polyline points="252.0,302.0 265.0,298.2" fill="none" stroke="#b5492e" stroke-width="0.5" />
<polyline points="252.0,411.0 267.0,406.5" fill="none" stroke="#b5492e" stroke-width="0.5" />
<polyline points="394.5,250.0 384.0,254.5" fill="none" stroke="#b5492e" stroke-width="0.5" />
<polyline points="391.5,353.5 383.0,357.0" fill="none" stroke="#b5492e" stroke-width="0.5" />
<polyline points="416.8,427.7 401.6,415.2" fill="none" stroke="#b5492e" stroke-width="0.5" />
<polyline points="357.3,451.2 339.3,441.5" fill="none" stroke="#b5492e" stroke-width="0.5" />
<polyline points="351.0,264.6 408.0,315.4 345.4,339.4 296.7,290.0" fill="none" stroke="#b5492e" stroke-width="0.5" />
<polyline points="284.5,317.0 314.6,343.8" fill="none" stroke="#b5492e" stroke-width="0.5" />
<g transform="translate(302.6,298.8) scale(1.15)" fill="#ee2a24"><path d="M2.6,0 l1.2,0.2 l-0.5,2.2 l1,2.4 l-0.9,2.2 l-1.1,-0.2 l0.6,-2.2 l-1,-2.2z"/><path d="M0.3,3.6 l1,-1.4 l0.5,2.2 l-0.7,2.2 l-1,-0.4z"/><circle cx="4.6" cy="1.6" r="0.55"/></g>
<g transform="translate(371.3,275.8) scale(1.15)" fill="#ee2a24"><path d="M2.6,0 l1.2,0.2 l-0.5,2.2 l1,2.4 l-0.9,2.2 l-1.1,-0.2 l0.6,-2.2 l-1,-2.2z"/><path d="M0.3,3.6 l1,-1.4 l0.5,2.2 l-0.7,2.2 l-1,-0.4z"/><circle cx="4.6" cy="1.6" r="0.55"/></g>
<g transform="translate(389.8,291.3) scale(1.15)" fill="#ee2a24"><path d="M2.6,0 l1.2,0.2 l-0.5,2.2 l1,2.4 l-0.9,2.2 l-1.1,-0.2 l0.6,-2.2 l-1,-2.2z"/><path d="M0.3,3.6 l1,-1.4 l0.5,2.2 l-0.7,2.2 l-1,-0.4z"/><circle cx="4.6" cy="1.6" r="0.55"/></g>
<g transform="translate(333.3,354.3) scale(1.15)" fill="#ee2a24"><path d="M2.6,0 l1.2,0.2 l-0.5,2.2 l1,2.4 l-0.9,2.2 l-1.1,-0.2 l0.6,-2.2 l-1,-2.2z"/><path d="M0.3,3.6 l1,-1.4 l0.5,2.2 l-0.7,2.2 l-1,-0.4z"/><circle cx="4.6" cy="1.6" r="0.55"/></g>
<g transform="translate(276.3,418.2) scale(1.15)" fill="#ee2a24"><path d="M2.6,0 l1.2,0.2 l-0.5,2.2 l1,2.4 l-0.9,2.2 l-1.1,-0.2 l0.6,-2.2 l-1,-2.2z"/><path d="M0.3,3.6 l1,-1.4 l0.5,2.2 l-0.7,2.2 l-1,-0.4z"/><circle cx="4.6" cy="1.6" r="0.55"/></g>
<g transform="translate(293.3,433.0) scale(1.15)" fill="#ee2a24"><path d="M2.6,0 l1.2,0.2 l-0.5,2.2 l1,2.4 l-0.9,2.2 l-1.1,-0.2 l0.6,-2.2 l-1,-2.2z"/><path d="M0.3,3.6 l1,-1.4 l0.5,2.2 l-0.7,2.2 l-1,-0.4z"/><circle cx="4.6" cy="1.6" r="0.55"/></g>
<g transform="translate(396.3,372.5) scale(1.15)" fill="#ee2a24"><path d="M2.6,0 l1.2,0.2 l-0.5,2.2 l1,2.4 l-0.9,2.2 l-1.1,-0.2 l0.6,-2.2 l-1,-2.2z"/><path d="M0.3,3.6 l1,-1.4 l0.5,2.2 l-0.7,2.2 l-1,-0.4z"/><circle cx="4.6" cy="1.6" r="0.55"/></g>
<g transform="translate(414.3,385.3) scale(1.15)" fill="#ee2a24"><path d="M2.6,0 l1.2,0.2 l-0.5,2.2 l1,2.4 l-0.9,2.2 l-1.1,-0.2 l0.6,-2.2 l-1,-2.2z"/><path d="M0.3,3.6 l1,-1.4 l0.5,2.2 l-0.7,2.2 l-1,-0.4z"/><circle cx="4.6" cy="1.6" r="0.55"/></g>
<g transform="translate(0,4.5)"><path d="M263.2,256.8 l0.5,-3.6 l-0.9,-2 l0.7,-1.6 l1.3,0.3 l0.4,2 l-0.3,2.2 l0.6,2.6z M264.3,248 a0.8,0.8 0 1 0 0.1,0 M265,250 l1.5,-1.8 l0.3,0.3 l-1.3,2z" fill="#111"/></g>
<g transform="translate(0.8,6.3)"><path d="M276.3,268.3 l1,-3 l-1.9,-1.8 l0.6,-0.6 l2.3,1.2 l0.6,1.6 l1.2,2.6 l-1,0.3 l-1.3,-2.2z M277.3,261.2 a0.8,0.8 0 1 0 0.1,0" fill="#111"/></g>
<polyline points="268.6,262.5 276.3,266.3" fill="none" stroke="#222" stroke-width="0.4" />
<text x="18.0" y="38.6" font-size="9.2" text-anchor="start" textLength="63.0" lengthAdjust="spacingAndGlyphs" fill="#1c1c1c">ВЗРЫВ - СХЕМА</text>
<rect x="63.2" y="153.1" width="7.7" height="7.5" fill="#a3489b" stroke="#5a4a4a" stroke-width="0.4"/>
<text x="73.0" y="160.3" font-size="6.2" text-anchor="start" textLength="79.0" lengthAdjust="spacingAndGlyphs" fill="#666">Четырехкомнатные квартиры</text>
<rect x="63.2" y="163.7" width="7.7" height="7.5" fill="#7db9f3" stroke="#5a4a4a" stroke-width="0.4"/>
<text x="73.0" y="170.9" font-size="6.2" text-anchor="start" textLength="68.0" lengthAdjust="spacingAndGlyphs" fill="#666">Трехкомнатные квартиры</text>
<rect x="63.2" y="175.1" width="7.7" height="7.5" fill="#fdb913" stroke="#5a4a4a" stroke-width="0.4"/>
<text x="73.0" y="182.3" font-size="6.2" text-anchor="start" textLength="69.0" lengthAdjust="spacingAndGlyphs" fill="#666">Двухкомнатные квартиры</text>
<rect x="63.2" y="186.2" width="7.7" height="7.5" fill="#f4451e" stroke="#5a4a4a" stroke-width="0.4"/>
<text x="73.0" y="193.4" font-size="6.2" text-anchor="start" textLength="71.0" lengthAdjust="spacingAndGlyphs" fill="#666">Однокомнатные квартиры</text>
<text x="505.8" y="54.5" font-size="5.4" text-anchor="end" textLength="21.6" lengthAdjust="spacingAndGlyphs" fill="#666">+ 69.900</text>
<text x="505.8" y="110.9" font-size="5.4" text-anchor="end" textLength="21.4" lengthAdjust="spacingAndGlyphs" fill="#666">+ 17.100</text>
<text x="505.8" y="167.8" font-size="5.4" text-anchor="end" textLength="18.5" lengthAdjust="spacingAndGlyphs" fill="#666">+ 7.200</text>
<text x="505.8" y="231.3" font-size="5.4" text-anchor="end" textLength="18.5" lengthAdjust="spacingAndGlyphs" fill="#666">+ 2.400</text>
<text x="505.8" y="345.4" font-size="5.4" text-anchor="end" textLength="18.8" lengthAdjust="spacingAndGlyphs" fill="#666">+ 0.000</text>
<text x="624.5" y="214.7" font-size="5.9" text-anchor="end" textLength="101.8" lengthAdjust="spacingAndGlyphs" fill="#5e5e5e">Объем с арендуемыми помещениями</text>
<polyline points="415.5,215.5 624.5,215.5" fill="none" stroke="#aaaaaa" stroke-width="0.5" />
<text x="624.5" y="279.4" font-size="5.9" text-anchor="end" textLength="125.5" lengthAdjust="spacingAndGlyphs" fill="#5e5e5e">Возможность организации пожарного объезда</text>
<polyline points="415.4,281.5 624.5,281.5" fill="none" stroke="#aaaaaa" stroke-width="0.5" />
<text x="624.5" y="290.7" font-size="5.9" text-anchor="end" textLength="132.0" lengthAdjust="spacingAndGlyphs" fill="#5e5e5e">Входные группы жилых зданий со стороны двора</text>
<polyline points="445.2,292.0 624.5,292.0" fill="none" stroke="#aaaaaa" stroke-width="0.5" />
<text x="624.5" y="348.2" font-size="5.9" text-anchor="end" textLength="108.5" lengthAdjust="spacingAndGlyphs" fill="#5e5e5e">Подход к жилому комплексу со стороны</text>
<polyline points="416.0,349.2 624.5,349.2" fill="none" stroke="#aaaaaa" stroke-width="0.5" />
<text x="624.5" y="355.1" font-size="5.9" text-anchor="end" textLength="75.5" lengthAdjust="spacingAndGlyphs" fill="#5e5e5e">станции метро Молодежная</text>
<text x="624.5" y="364.4" font-size="5.9" text-anchor="end" textLength="144.0" lengthAdjust="spacingAndGlyphs" fill="#5e5e5e">Пандусы для организации доступа пожарной техники</text>
<polyline points="415.0,365.7 624.5,365.7" fill="none" stroke="#aaaaaa" stroke-width="0.5" />
<text x="624.5" y="382.9" font-size="5.9" text-anchor="end" textLength="102.0" lengthAdjust="spacingAndGlyphs" fill="#5e5e5e">Парковка предназначенная для жителей</text>
<polyline points="414.0,384.0 624.5,384.0" fill="none" stroke="#aaaaaa" stroke-width="0.5" />
<text x="624.5" y="396.4" font-size="5.9" text-anchor="end" textLength="132.5" lengthAdjust="spacingAndGlyphs" fill="#5e5e5e">Входные группы жилых зданий со стороны улицы</text>
<polyline points="404.7,397.6 624.5,397.6" fill="none" stroke="#aaaaaa" stroke-width="0.5" />
<text x="624.5" y="411.2" font-size="5.9" text-anchor="end" textLength="90.5" lengthAdjust="spacingAndGlyphs" fill="#5e5e5e">Встроенные нежилые помещения</text>
<polyline points="418.8,411.8 624.5,411.8" fill="none" stroke="#aaaaaa" stroke-width="0.5" />
<text x="624.5" y="425.8" font-size="5.9" text-anchor="end" textLength="102.0" lengthAdjust="spacingAndGlyphs" fill="#5e5e5e">Объем с арендуемыми помещениями</text>
<polyline points="404.0,426.6 624.5,426.6" fill="none" stroke="#aaaaaa" stroke-width="0.5" />
<text x="624.5" y="441.4" font-size="5.9" text-anchor="end" textLength="144.0" lengthAdjust="spacingAndGlyphs" fill="#5e5e5e">Пандусы для организации доступа пожарной техники</text>
<polyline points="422.3,442.8 624.5,442.8" fill="none" stroke="#aaaaaa" stroke-width="0.5" />
<text x="61.4" y="265.4" font-size="5.9" text-anchor="start" textLength="96.6" lengthAdjust="spacingAndGlyphs" fill="#5e5e5e">Организация спортивных площадок</text>
<polyline points="61.4,265.9 275.0,265.9" fill="none" stroke="#aaaaaa" stroke-width="0.5" />
<text x="61.4" y="309.2" font-size="5.9" text-anchor="start" textLength="133.0" lengthAdjust="spacingAndGlyphs" fill="#5e5e5e">Входные группы жилых зданий со стороны двора</text>
<polyline points="61.4,310.0 271.0,310.0" fill="none" stroke="#aaaaaa" stroke-width="0.5" />
<text x="61.4" y="350.1" font-size="5.9" text-anchor="start" textLength="135.6" lengthAdjust="spacingAndGlyphs" fill="#5e5e5e">Въезд на парковку, предназначенную для жителей</text>
<polyline points="61.4,350.9 262.0,350.9" fill="none" stroke="#aaaaaa" stroke-width="0.5" />
<text x="61.4" y="374.4" font-size="5.9" text-anchor="start" textLength="49.2" lengthAdjust="spacingAndGlyphs" fill="#5e5e5e">Гостевая парковка</text>
<polyline points="61.4,375.3 245.4,375.3" fill="none" stroke="#aaaaaa" stroke-width="0.5" />
<text x="61.4" y="399.4" font-size="5.9" text-anchor="start" textLength="144.3" lengthAdjust="spacingAndGlyphs" fill="#5e5e5e">Пандусы для организации доступа пожарной техники</text>
<polyline points="61.4,400.1 266.5,400.1" fill="none" stroke="#aaaaaa" stroke-width="0.5" />
<text x="61.4" y="417.8" font-size="5.9" text-anchor="start" textLength="134.0" lengthAdjust="spacingAndGlyphs" fill="#5e5e5e">Входные группы жилых зданий со стороны улицы</text>
<polyline points="61.4,418.9 300.0,418.9" fill="none" stroke="#aaaaaa" stroke-width="0.5" />
<text x="61.4" y="434.4" font-size="5.9" text-anchor="start" textLength="91.6" lengthAdjust="spacingAndGlyphs" fill="#5e5e5e">Встроенные нежилые помещения</text>
<polyline points="61.4,435.7 285.3,435.7" fill="none" stroke="#aaaaaa" stroke-width="0.5" />
<text x="61.4" y="448.2" font-size="5.9" text-anchor="start" textLength="162.6" lengthAdjust="spacingAndGlyphs" fill="#5e5e5e">Въезд в парковку, обслуживающую арендуемые помещения</text>
<polyline points="61.4,449.3 309.5,449.3" fill="none" stroke="#aaaaaa" stroke-width="0.5" />
<text x="61.4" y="455.4" font-size="5.9" text-anchor="start" textLength="70.6" lengthAdjust="spacingAndGlyphs" fill="#5e5e5e">и подъезд к зоне загрузки</text>
<polyline points="400.0,275.4 430.8,275.4 445.2,291.7" fill="none" stroke="#8a8a8a" stroke-width="0.45" />
<polyline points="400.0,370.5 462.2,370.5 497.4,411.5" fill="none" stroke="#8a8a8a" stroke-width="0.45" />
<polyline points="400.0,380.4 437.6,380.4 452.0,397.3" fill="none" stroke="#8a8a8a" stroke-width="0.45" />
<polyline points="402.3,419.8 422.3,442.5" fill="none" stroke="#8a8a8a" stroke-width="0.45" />
<polyline points="309.5,450.3 319.7,448.0" fill="none" stroke="#8a8a8a" stroke-width="0.45" />
<polyline points="258.0,435.3 274.0,412.0" fill="none" stroke="#8a8a8a" stroke-width="0.45" />
<polyline points="275.0,435.3 279.7,427.0 285.3,434.5" fill="none" stroke="#8a8a8a" stroke-width="0.45" />
</g>
</svg>
</body></html>
